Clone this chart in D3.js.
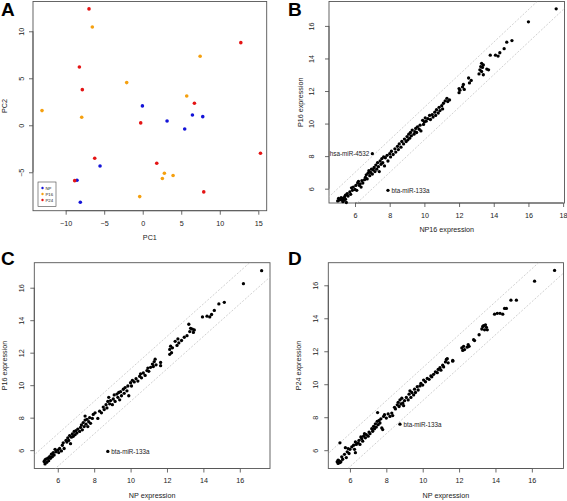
<!DOCTYPE html>
<html><head><meta charset="utf-8">
<script src="https://cdn.jsdelivr.net/npm/d3@7"></script>
<style>body{margin:0;background:#fff}svg{display:block}text{font-family:"Liberation Sans",Arial,Helvetica,sans-serif;fill:#222}</style>
</head><body><svg id="c" width="567" height="501"></svg>
<script>
// ---- Panel A: PCA ----
const pcaGroups = ["NP", "P16", "P24"];
const pcaColors = ["#1414d8", "#f5a00f", "#e41414"];
const npPC1 = [-0.04, 6.45, 7.79, 3.16, 5.45, -5.54, -8.53, -8.10];
const npPC2 = [2.06, 1.10, 0.92, 0.46, -0.39, -4.33, -5.85, -8.19];
const p16PC1 = [-6.54, 7.45, -2.08, 5.71, -13.07, -7.92, 2.81, 3.94, 2.55, -0.39];
const p16PC2 = [10.46, 7.34, 4.54, 3.12, 1.56, 0.85, -5.11, -5.35, -5.67, -7.59];
const p24PC1 = [-6.97, 12.73, -8.22, -7.84, 6.71, -0.26, 15.28, -6.23, 1.82, -8.83, 7.92];
const p24PC2 = [12.38, 8.79, 6.20, 3.79, 2.34, 0.25, -2.98, -3.51, -4.04, -5.89, -7.09];
const pcaXTicks = [-10, -5, 0, 5, 10, 15];
const pcaYTicks = [-5, 0, 5, 10];

// ---- Panel B: NP16 vs P16 ----
const bX = [5.0,5.05,5.1,5.15,5.2,5.25,5.3,5.35,5.4,5.45,5.5,5.45,5.55,5.6,5.3,5.2,
 5.7,5.75,5.8,5.85,5.9,6.0,6.05,6.1,6.15,6.2,6.25,6.3,6.35,6.4,6.45,6.55,
 6.6,6.65,6.7,6.75,6.8,6.85,6.9,6.95,7.0,7.05,7.1,7.15,7.2,7.25,7.3,7.35,7.4,7.45,7.5,7.55,7.6,7.65,7.7,7.75,
 7.85,7.9,8.0,8.05,8.1,8.2,8.3,8.35,8.45,8.5,8.55,8.65,8.7,8.8,8.85,8.95,9.0,9.05,
 9.1,9.15,9.2,9.25,9.3,9.4,9.45,9.5,9.55,9.6,9.7,9.75,9.8,9.9,9.95,10.0,
 10.05,10.1,10.2,10.3,10.35,10.45,10.5,10.6,10.65,10.7,10.8,10.85,10.9,11.0,11.05,11.1,11.2,11.3,11.35,11.45,
 12.0,12.0,12.05,12.2,12.25,12.3,12.55,12.6,12.7,
 13.15,13.2,13.25,13.3,13.3,13.35,13.4,13.4,13.6,13.7,
 13.8,14.1,14.25,14.35,14.6,14.75,15.05,16.0,17.6,7.0,7.9];
const bY = [5.25,5.4,5.3,5.35,5.45,5.3,5.4,5.28,5.5,5.35,5.15,5.6,5.7,5.55,5.2,5.35,
 5.8,5.65,6.05,5.9,6.1,5.95,6.2,5.9,6.35,6.45,6.2,6.3,6.1,6.5,6.35,6.55,
 6.7,6.85,6.6,6.95,7.1,6.8,7.0,7.2,6.9,7.15,7.3,7.05,7.45,7.2,7.6,7.35,7.05,7.7,7.5,7.85,7.6,7.95,7.4,7.9,
 8.05,7.7,8.15,7.95,8.3,8.1,8.45,8.25,8.6,8.4,8.75,8.55,8.9,8.75,9.05,8.9,9.2,9.0,
 9.35,9.1,9.45,9.25,9.6,9.35,9.5,9.7,9.45,9.8,9.65,9.9,9.55,10.2,9.95,10.1,
 10.35,10.15,10.3,10.5,10.25,10.55,10.4,10.7,10.5,10.85,10.65,11.0,10.8,11.1,10.9,11.25,11.4,11.55,11.35,11.45,
 11.9,12.15,12.05,12.25,12.4,12.1,12.8,12.5,12.65,
 13.05,13.3,13.5,13.7,13.2,13.45,13.6,13.0,13.35,13.3,
 14.2,14.2,14.15,14.35,14.6,15.0,15.1,16.25,17.05,8.15,5.9];
const bLabels = [{x: 7.0, y: 8.15, name: "hsa-miR-4532", side: "left"}, {x: 7.9, y: 5.9, name: "bta-miR-133a", side: "right"}];
const bXTicks = [6, 8, 10, 12, 14, 16, 18];
const bYTicks = [6, 8, 10, 12, 14, 16];

// ---- Panel C: NP vs P16 ----
const cX = [5.25,5.3,5.3,5.35,5.4,5.45,5.5,5.55,5.6,5.65,5.7,5.75,5.8,5.85,5.9,6.0,6.05,6.1,6.2,6.25,6.3,6.35,6.45,6.5,6.55,6.6,6.65,6.7,6.75,6.8,6.85,6.9,6.95,7.0,7.05,7.1,7.2,7.25,7.3,7.35,7.4,7.45,7.5,7.5,7.55,7.6,7.65,7.7,7.75,7.8,7.9,7.95,8.05,8.2,8.3,8.4,8.5,8.55,8.65,8.7,8.75,8.8,8.85,8.9,9.0,9.05,9.1,9.15,9.25,9.3,9.35,9.4,9.45,9.5,9.6,9.65,9.7,9.8,9.85,9.9,10.0,10.05,10.1,10.2,10.3,10.4,10.5,10.55,10.6,10.7,10.8,10.9,10.95,11.0,11.1,11.2,11.25,11.3,11.35,11.4,11.65,11.65,
 12.15,12.2,12.15,12.25,12.3,12.45,12.55,12.6,12.65,12.8,12.95,13.1,13.2,13.25,13.3,13.4,13.45,13.5,
 13.95,14.2,14.35,14.45,14.6,14.85,15.15,16.2,17.2,8.75];
const cY = [5.3,5.4,5.15,5.45,5.25,5.5,5.35,5.6,5.5,5.75,5.6,5.85,5.7,6.05,5.9,6.0,5.85,6.1,5.95,6.3,6.45,6.1,6.6,6.5,6.75,6.6,6.9,6.4,6.8,7.0,6.85,7.15,6.95,7.2,7.05,7.3,7.15,7.4,7.55,7.25,7.7,7.45,8.1,7.85,7.6,7.9,7.45,7.75,8.0,7.65,7.95,8.2,8.3,7.95,8.4,8.3,8.65,8.5,8.8,8.6,9.0,9.25,8.85,9.05,8.8,9.15,9.4,9.0,9.45,9.25,9.55,9.1,9.6,9.35,9.75,9.5,9.85,9.65,9.95,9.35,10.15,9.95,10.3,10.2,10.4,10.25,10.55,10.7,10.45,10.75,10.6,10.9,11.05,10.85,11.1,11.3,11.15,11.45,11.6,11.25,11.4,11.2,
 12.2,12.4,11.9,12.0,12.3,12.7,12.45,12.85,12.6,12.75,12.95,13.05,13.75,13.3,13.5,13.45,13.25,13.4,
 14.2,14.25,14.2,14.35,14.6,15.0,15.1,16.25,17.05,5.92];
const cLabels = [{x: 8.75, y: 5.92, name: "bta-miR-133a", side: "right"}];
const cXTicks = [6, 8, 10, 12, 14, 16];
const cYTicks = [6, 8, 10, 12, 14, 16];

// ---- Panel D: NP vs P24 ----
const dX = [5.3,5.35,5.4,5.45,5.5,5.35,5.45,5.55,5.6,5.7,5.75,5.8,5.85,5.9,5.95,6.0,6.1,6.2,6.25,6.3,6.3,6.35,6.45,6.5,6.55,6.6,6.65,6.7,6.75,6.8,6.85,6.9,7.0,7.05,7.1,7.2,7.25,7.3,7.35,7.4,7.45,7.5,7.52,7.55,7.6,7.65,7.7,7.75,7.8,7.85,7.9,8.0,8.1,8.2,8.3,8.35,8.45,8.5,8.6,8.65,8.7,8.75,8.8,8.85,8.9,8.95,9.0,9.1,9.2,9.25,9.3,9.35,9.4,9.5,9.55,9.6,9.7,9.75,9.85,9.9,10.0,10.05,10.15,10.25,10.35,10.45,10.5,10.6,10.7,10.8,10.85,10.95,11.0,11.1,11.15,11.25,11.3,11.35,11.4,11.65,11.65,
 12.15,12.2,12.25,12.3,12.45,12.5,12.55,12.8,12.85,13.1,13.25,13.3,13.35,13.4,13.45,13.5,13.55,
 13.95,14.1,14.25,14.4,14.5,14.6,14.85,15.15,16.15,17.25,8.75];
const dY = [5.3,5.2,5.35,5.25,5.3,5.4,6.45,5.6,5.45,5.75,6.15,5.55,5.9,6.1,5.8,6.05,6.2,6.3,6.05,6.5,5.85,6.35,6.45,6.6,6.35,6.8,6.7,6.55,6.85,7.0,6.75,6.95,6.85,7.1,7.0,7.3,7.15,7.45,7.3,7.6,7.4,7.75,8.28,7.55,7.8,7.65,7.9,7.35,7.25,8.05,8.15,7.95,8.2,8.05,8.25,8.1,8.6,8.5,8.75,8.9,8.65,9.05,8.8,9.15,8.85,8.7,9.0,9.2,9.05,9.4,9.6,9.2,9.5,9.35,9.7,9.5,9.85,9.65,9.9,10.05,9.95,10.25,10.15,10.35,10.3,10.5,10.45,10.6,10.75,10.7,10.9,11.0,10.85,11.15,11.05,11.35,11.5,11.55,11.3,11.45,11.4,
 12.2,12.05,12.3,12.1,12.25,12.4,12.3,12.7,12.65,13.0,13.35,13.5,13.55,13.3,13.6,13.45,13.3,
 14.25,14.3,14.3,14.25,14.6,14.6,15.1,15.1,16.25,16.9,7.58];
const dLabels = [{x: 8.75, y: 7.58, name: "bta-miR-133a", side: "right"}];
const dXTicks = [6, 8, 10, 12, 14, 16];
const dYTicks = [6, 8, 10, 12, 14, 16];

const svg = d3.select("#c");
svg.append("rect").attr("width", 567).attr("height", 501).attr("fill", "#fff");
const FS = 7.2;
const FF = '"Liberation Sans",Arial,sans-serif';

function frame(p) {
  const g = svg.append("g");
  const x = d3.scaleLinear().domain(p.xd).range([p.l, p.r]);
  const y = d3.scaleLinear().domain(p.yd).range([p.b, p.t]);
  const cid = "clip" + p.letter;
  svg.append("clipPath").attr("id", cid).append("rect")
    .attr("x", p.l).attr("y", p.t).attr("width", p.r - p.l).attr("height", p.b - p.t);
  // bottom axis
  const xa = d3.axisBottom(x).tickValues(p.xt).tickSize(4).tickPadding(3).tickFormat(d3.format("d"));
  const gx = g.append("g").attr("transform", `translate(0,${p.b})`).call(xa);
  gx.select(".domain").attr("d", `M${x(p.xt[0])},0H${x(p.xt[p.xt.length-1])}`);
  gx.selectAll("text").attr("y", p.xlab - p.b).attr("dy", "0.35em").style("font-size", FS + "px")
    .style("font-family", FF).attr("fill", "#222");
  const ya = d3.axisLeft(y).tickValues(p.yt).tickSize(4).tickFormat(d3.format("d"));
  const gy = g.append("g").attr("transform", `translate(${p.l},0)`).call(ya);
  gy.select(".domain").attr("d", `M0,${y(p.yt[0])}V${y(p.yt[p.yt.length-1])}`);
  gy.selectAll("text").attr("x", 0).attr("y", 0).attr("dy", null)
    .attr("transform", `translate(${p.ylab - p.l},0) rotate(-90)`)
    .attr("text-anchor", "middle").attr("dominant-baseline", "central")
    .style("font-size", FS + "px").style("font-family", FF).attr("fill", "#222");
  [gx, gy].forEach(a => { a.selectAll("line, path").attr("stroke", "#444").attr("stroke-width", 0.8); });
  // box
  g.append("rect").attr("x", p.l).attr("y", p.t).attr("width", p.r - p.l).attr("height", p.b - p.t)
    .attr("fill", "none").attr("stroke", "#555").attr("stroke-width", 0.9);
  // titles
  g.append("text").attr("x", (p.l + p.r) / 2).attr("y", p.xtitle).attr("text-anchor", "middle")
    .attr("dominant-baseline", "central").style("font-size", FS + "px").text(p.xname);
  g.append("text").attr("transform", `translate(${p.ytitle},${(p.t + p.b) / 2}) rotate(-90)`)
    .attr("text-anchor", "middle").attr("dominant-baseline", "central").style("font-size", FS + "px").text(p.yname);
  g.append("text").attr("x", p.lx).attr("y", p.ly).style("font-size", "19px").style("font-weight", "bold")
    .style("fill", "#000").text(p.letter);
  return {g, x, y, cid};
}

// Panel A
(function () {
  const f = frame({letter: "A", l: 33, r: 266.7, t: 1.5, b: 210.7, xd: [-14.24, 16.09], yd: [-9.09, 13.17],
    xt: pcaXTicks, yt: pcaYTicks, xlab: 223, ylab: 21.7, xtitle: 237.5, ytitle: 4.5,
    xname: "PC1", yname: "PC2", lx: 1, ly: 16});
  const sets = [[npPC1, npPC2], [p16PC1, p16PC2], [p24PC1, p24PC2]];
  sets.forEach((s, i) => {
    f.g.append("g").selectAll("circle").data(s[0].map((v, j) => [v, s[1][j]])).join("circle")
      .attr("cx", d => f.x(d[0])).attr("cy", d => f.y(d[1])).attr("r", 1.8).attr("fill", pcaColors[i]);
  });
  const lg = f.g.append("g");
  lg.append("rect").attr("x", 38).attr("y", 182).attr("width", 18).attr("height", 24.5)
    .attr("fill", "#fff").attr("stroke", "#444").attr("stroke-width", 0.6);
  pcaGroups.forEach((name, i) => {
    lg.append("circle").attr("cx", 42.5).attr("cy", 188 + i * 6).attr("r", 1.2).attr("fill", pcaColors[i]);
    lg.append("text").attr("x", 45.5).attr("y", 188 + i * 6).attr("dominant-baseline", "central")
      .style("font-size", "4.3px").text(name);
  });
})();

function scatterPanel(p, xs, ys, labels) {
  const f = frame(p);
  const lo = Math.min(p.xd[0], p.yd[0]) - 2, hi = Math.max(p.xd[1], p.yd[1]) + 2;
  [1, -1].forEach(off => {
    f.g.append("line").attr("clip-path", `url(#${f.cid})`)
      .attr("x1", f.x(lo)).attr("y1", f.y(lo + off)).attr("x2", f.x(hi)).attr("y2", f.y(hi + off))
      .attr("stroke", "#c4c4c4").attr("stroke-width", 0.8).attr("stroke-dasharray", "2,1.6");
  });
  f.g.append("g").selectAll("circle").data(xs.map((v, j) => [v, ys[j]])).join("circle")
    .attr("cx", d => f.x(d[0])).attr("cy", d => f.y(d[1])).attr("r", 1.65).attr("fill", "#000");
  labels.forEach(L => {
    f.g.append("text").attr("x", f.x(L.x) + (L.side === "left" ? -3 : 3.5)).attr("y", f.y(L.y))
      .attr("text-anchor", L.side === "left" ? "end" : "start").attr("dominant-baseline", "central")
      .style("font-size", "6.3px").text(L.name);
  });
}

scatterPanel({letter: "B", l: 329, r: 564.5, t: 1.5, b: 203, xd: [4.5, 18.08], yd: [5.12, 17.5],
  xt: bXTicks, yt: bYTicks, xlab: 215, ylab: 311, xtitle: 229, ytitle: 300.5,
  xname: "NP16 expression", yname: "P16 expression", lx: 288, ly: 16}, bX, bY, bLabels);
scatterPanel({letter: "C", l: 34.3, r: 270, t: 262.7, b: 468.5, xd: [4.71, 17.66], yd: [4.87, 17.54],
  xt: cXTicks, yt: cYTicks, xlab: 480.5, ylab: 21.7, xtitle: 495.5, ytitle: 4.5,
  xname: "NP expression", yname: "P16 expression", lx: 1, ly: 265}, cX, cY, cLabels);
scatterPanel({letter: "D", l: 328.3, r: 563.5, t: 262.7, b: 468.5, xd: [4.81, 17.74], yd: [4.89, 17.37],
  xt: dXTicks, yt: dYTicks, xlab: 480.5, ylab: 315, xtitle: 495.5, ytitle: 298.5,
  xname: "NP expression", yname: "P24 expression", lx: 288, ly: 265}, dX, dY, dLabels);
</script></body></html>
